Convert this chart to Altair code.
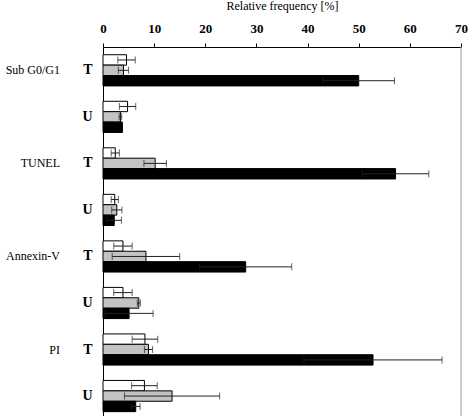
import altair as alt
import pandas as pd

# Assays and treatment conditions (T = treated, U = untreated)
methods = ["Sub G0/G1", "TUNEL", "Annexin-V", "PI"]
conditions = ["T", "U"]
series = ["open", "grey", "filled"]

# Relative frequency [%] per row, in the order of rows below, with error values
open_vals = [4.6, 4.8, 2.4, 2.3, 3.9, 3.9, 8.2, 8.1]
open_err = [1.7, 1.6, 0.8, 0.7, 1.8, 1.8, 2.5, 2.5]
grey_vals = [4.0, 3.4, 10.2, 2.7, 8.4, 7.0, 8.9, 13.5]
grey_err = [1.0, 0.25, 2.2, 1.0, 6.6, 0.3, 0.8, 9.3]
filled_vals = [50.0, 3.8, 57.2, 2.2, 27.9, 5.1, 52.8, 6.4]
filled_err = [7.0, 0.0, 6.5, 1.4, 9.0, 4.7, 13.5, 0.85]

rows = [f"{m}|{c}" for m in methods for c in conditions]

records = []
for s, vals, errs in zip(series, [open_vals, grey_vals, filled_vals],
                         [open_err, grey_err, filled_err]):
    for r, v, e in zip(rows, vals, errs):
        records.append({"row": r, "series": s, "value": v,
                        "lo": v - e, "hi": v + e, "err": e})
df = pd.DataFrame(records)
df_err = df[df["err"] > 0]

labels_df = pd.DataFrame({"row": [f"{m}|T" for m in methods], "method": methods})

FONT = "Liberation Serif"

y_scale = alt.Scale(paddingInner=0.33, paddingOuter=0.13, align=0.64)
y_enc = alt.Y(
    "row:N", sort=rows, scale=y_scale,
    axis=alt.Axis(title=None, labelExpr="split(datum.value, '|')[1]",
                  ticks=False, domainColor="black", labelColor="black",
                  labelFont=FONT, labelFontWeight="bold", labelFontSize=14,
                  labelPadding=11),
)
y_off = alt.YOffset("series:N", sort=series,
                    scale=alt.Scale(paddingInner=0, paddingOuter=0))
x_scale = alt.Scale(domain=[0, 70], nice=False)
x_axis = alt.Axis(orient="top", values=list(range(0, 71, 10)),
                  title="Relative frequency [%]", grid=False,
                  domainColor="black", tickColor="black", tickSize=4,
                  labelFlush=False,
                  labelColor="black", labelFont=FONT, labelFontWeight="bold",
                  labelFontSize=13, labelPadding=8,
                  titleFont=FONT, titleFontWeight="normal", titleFontSize=12,
                  titleColor="black", titlePadding=10)

bars = alt.Chart(df).mark_bar(stroke="black", strokeWidth=1).encode(
    x=alt.X("value:Q", scale=x_scale, axis=x_axis),
    y=y_enc,
    yOffset=y_off,
    color=alt.Color("series:N",
                    scale=alt.Scale(domain=series,
                                    range=["white", "#c3c3c3", "black"]),
                    legend=None),
)

err_lines = alt.Chart(df_err).mark_rule(color="#222", strokeWidth=1).encode(
    x=alt.X("lo:Q", scale=x_scale), x2="hi:Q",
    y=alt.Y("row:N", sort=rows, scale=y_scale), yOffset=y_off,
)
caps_lo = alt.Chart(df_err).mark_tick(color="#222", thickness=1, size=7).encode(
    x=alt.X("lo:Q", scale=x_scale),
    y=alt.Y("row:N", sort=rows, scale=y_scale), yOffset=y_off,
)
caps_hi = alt.Chart(df_err).mark_tick(color="#222", thickness=1, size=7).encode(
    x=alt.X("hi:Q", scale=x_scale),
    y=alt.Y("row:N", sort=rows, scale=y_scale), yOffset=y_off,
)

method_text = alt.Chart(labels_df).mark_text(
    align="right", baseline="middle", font=FONT, fontSize=12, color="black"
).encode(
    y=alt.Y("row:N", sort=rows, scale=y_scale),
    text="method:N",
    x=alt.value(-43),
)

frame = alt.Chart(pd.DataFrame({"v": [70]})).mark_rule(
    color="#999", strokeWidth=1
).encode(x=alt.X("v:Q", scale=x_scale))

chart = alt.layer(bars, err_lines, caps_lo, caps_hi, method_text, frame).properties(
    width=358, height=369,
    autosize=alt.AutoSizeParams(type="none"),
    padding={"left": 103, "top": 47, "right": 7, "bottom": 0},
).configure_view(stroke=None)

chart.save("out.html", embed_options={"renderer": "svg", "actions": False})
